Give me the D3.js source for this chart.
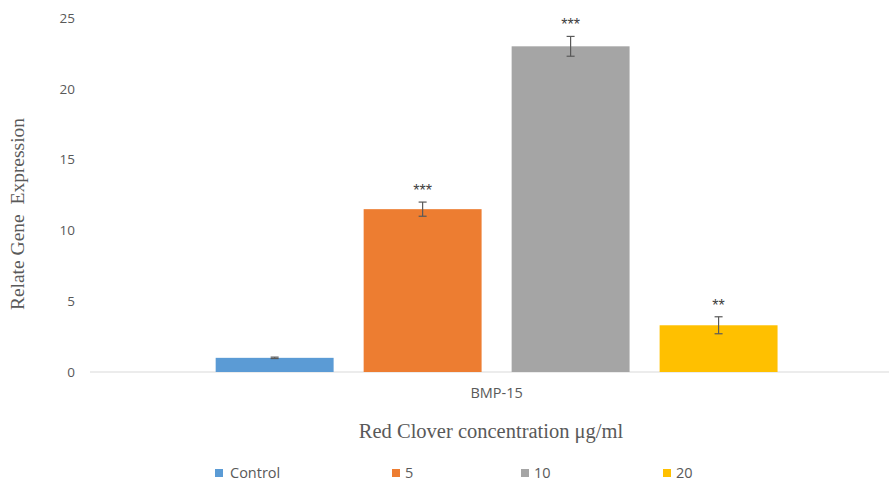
<!DOCTYPE html>
<html><head><meta charset="utf-8">
<script src="https://cdn.jsdelivr.net/npm/d3@7"></script>
<style>body{margin:0;background:#fff}svg{display:block}</style>
</head><body><svg id="c" width="889" height="484"></svg>
<script>
const category = "BMP-15";
const seriesNames = ["Control", "5", "10", "20"];
const seriesValues = [1.0, 11.5, 23.0, 3.3];
const seriesErrors = [0.05, 0.5, 0.7, 0.6];
const significance = ["", "***", "***", "**"];
const seriesColors = ["#5B9BD5", "#ED7D31", "#A5A5A5", "#FFC000"];
const yTicks = [0, 5, 10, 15, 20, 25];

const svg = d3.select("#c");
const m = {l: 90, r: 0, t: 18, b: 112};
const W = 889, H = 484;
const y = d3.scaleLinear().domain([0, 25]).range([H - m.b, m.t]);
const x0 = d3.scaleBand().domain([category]).range([m.l, W - m.r]).paddingInner(0).paddingOuter(0.211).align(0.53);
const x1 = d3.scaleBand().domain(seriesNames).range([0, x0.bandwidth()]).paddingInner(0.203).paddingOuter(0.0);

// y axis (labels only)
const yAx = svg.append("g").attr("transform", `translate(${m.l},0)`)
  .call(d3.axisLeft(y).tickValues(yTicks).tickSize(0).tickPadding(15));
yAx.select(".domain").remove();
yAx.selectAll("text").attr("font-family", "'Open Sans', 'Liberation Sans', sans-serif")
  .attr("font-size", 13.5).attr("fill", "#595959");

// baseline
svg.append("line").attr("x1", m.l).attr("x2", W - m.r).attr("y1", y(0)).attr("y2", y(0))
  .attr("stroke", "#D9D9D9").attr("stroke-width", 1.2);

const g = svg.append("g").attr("transform", `translate(${x0(category)},0)`);
const data = seriesNames.map((n, i) => ({n, v: seriesValues[i], e: seriesErrors[i], s: significance[i], c: seriesColors[i]}));

g.selectAll("rect.bar").data(data).join("rect").attr("class", "bar")
  .attr("x", d => x1(d.n)).attr("width", x1.bandwidth())
  .attr("y", d => y(d.v)).attr("height", d => y(0) - y(d.v))
  .attr("fill", d => d.c);

// error bars
const eb = g.selectAll("g.err").data(data).join("g").attr("class", "err")
  .attr("stroke", "#595959").attr("stroke-width", 1.2);
eb.append("line").attr("x1", d => x1(d.n) + x1.bandwidth()/2).attr("x2", d => x1(d.n) + x1.bandwidth()/2)
  .attr("y1", d => y(d.v + d.e)).attr("y2", d => y(d.v - d.e));
eb.append("line").attr("x1", d => x1(d.n) + x1.bandwidth()/2 - 4).attr("x2", d => x1(d.n) + x1.bandwidth()/2 + 4)
  .attr("y1", d => y(d.v + d.e)).attr("y2", d => y(d.v + d.e));
eb.append("line").attr("x1", d => x1(d.n) + x1.bandwidth()/2 - 4).attr("x2", d => x1(d.n) + x1.bandwidth()/2 + 4)
  .attr("y1", d => y(d.v - d.e)).attr("y2", d => y(d.v - d.e));

// significance stars
g.selectAll("text.sig").data(data).join("text").attr("class", "sig")
  .attr("x", d => x1(d.n) + x1.bandwidth()/2).attr("y", d => y(d.v + d.e) - 6)
  .attr("text-anchor", "middle").attr("font-family", "'Liberation Sans', sans-serif")
  .attr("font-size", 16).attr("fill", "#404040").text(d => d.s);

// category label
svg.append("text").attr("x", x0(category) + x0.bandwidth()/2).attr("y", 398)
  .attr("text-anchor", "middle").attr("font-family", "'Open Sans', 'Liberation Sans', sans-serif")
  .attr("font-size", 14.5).attr("fill", "#595959").text(category);

// x title
svg.append("text").attr("x", 491).attr("y", 438)
  .attr("text-anchor", "middle").attr("font-family", "'Liberation Serif', serif")
  .attr("font-size", 20.5).attr("fill", "#595959").text("Red Clover concentration μg/ml");

// y title
svg.append("text").attr("transform", `translate(24,214) rotate(-90)`)
  .attr("text-anchor", "middle").attr("font-family", "'Liberation Serif', serif")
  .style("white-space", "pre")
  .attr("font-size", 19.5).attr("fill", "#595959").text("Relate Gene  Expression");

// legend
const legX = [215, 392, 521, 663];
const lg = svg.selectAll("g.leg").data(data).join("g").attr("class", "leg")
  .attr("transform", (d, i) => `translate(${legX[i]},469)`);
lg.append("rect").attr("width", 8).attr("height", 8).attr("fill", d => d.c);
lg.append("text").attr("x", d => d.n === "Control" ? 15 : 13).attr("y", 9)
  .attr("font-family", "'Open Sans', 'Liberation Sans', sans-serif")
  .attr("font-size", 14.5).attr("fill", "#595959").text(d => d.n);
</script></body></html>
